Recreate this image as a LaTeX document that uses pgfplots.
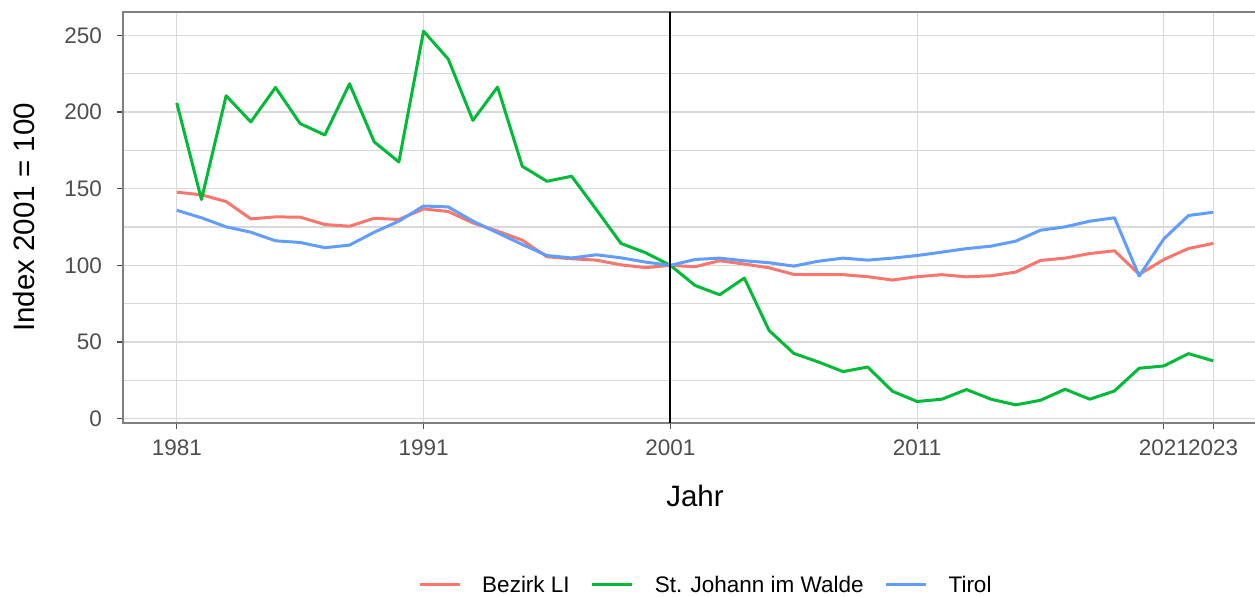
\documentclass[border=0pt]{standalone}
\usepackage{fontspec}
\setmainfont{Liberation Sans}
\usepackage{pgfplots}
\usepackage{pgfplotstable}
\pgfplotsset{compat=1.18}
\definecolor{cLI}{HTML}{F8766D}
\definecolor{cSJ}{HTML}{00BA38}
\definecolor{cT}{HTML}{619CFF}
\definecolor{gridc}{RGB}{217,217,217}
\definecolor{axc}{RGB}{127,127,127}
\definecolor{tickc}{RGB}{77,77,77}

\pgfplotstableread{
year bez sj tirol
1981 147.7 205.9 135.9
1982 146.0 142.9 131.0
1983 141.6 210.6 125.1
1984 130.3 193.5 121.6
1985 131.6 216.0 116.0
1986 131.4 192.4 114.9
1987 126.6 185.0 111.5
1988 125.5 218.4 113.2
1989 130.7 180.5 121.6
1990 129.9 167.4 128.8
1991 136.8 252.7 138.7
1992 135.1 234.5 138.1
1993 127.7 194.5 128.8
1994 122.3 216.3 121.2
1995 116.4 164.6 113.6
1996 105.6 154.8 106.4
1997 104.3 158.1 104.8
1998 103.4 136.4 106.9
1999 100.3 114.3 104.9
2000 98.5 108.2 102.1
2001 100.0 100.0 100.0
2002 99.1 86.9 103.8
2003 103.0 80.8 104.7
2004 100.8 91.7 103.0
2005 98.4 57.6 101.7
2006 94.1 42.6 99.5
2007 93.9 37.0 102.7
2008 93.9 30.7 104.7
2009 92.6 33.7 103.4
2010 90.4 17.9 104.7
2011 92.6 11.2 106.4
2012 93.9 12.7 108.6
2013 92.5 19.0 110.9
2014 93.2 12.7 112.5
2015 95.6 9.0 115.8
2016 103.2 12.0 122.9
2017 104.7 19.2 125.1
2018 107.7 12.7 128.8
2019 109.5 18.1 131.0
2020 94.1 32.9 93.0
2021 103.8 34.4 117.3
2022 111.0 42.4 132.5
2023 114.3 37.7 134.6
}\data

\begin{document}
\begin{tikzpicture}
\begin{axis}[name=ax, at={(0,0)}, anchor=south west,
  scale only axis, width=1144bp, height=411bp,
  xmin=1978.82, xmax=2025.18, ymin=-2.8, ymax=265.2,
  xtick={1981,1991,2001,2011,2021,2023},
  xticklabels={1981,1991,2001,2011,2021,2023},
  ytick={0,50,...,250}, minor ytick={25,75,...,225},
  grid=both,
  major grid style={gridc, line width=1.1bp},
  minor grid style={gridc, line width=1.1bp},
  axis line style={axc, line width=1.4bp},
  tick pos=left, tick align=outside,
  major tick length=6bp, minor tick length=0pt,
  tick style={tickc, line width=1.1bp},
  /pgf/number format/assume math mode=true,
  ticklabel style={font=\fontsize{22.5bp}{27bp}\selectfont, text=tickc, inner sep=0pt},
  xticklabel style={anchor=north, yshift=-10.5bp},
  yticklabel style={anchor=east, xshift=-15bp},
  xlabel={Jahr}, ylabel={Index 2001 = 100},
  label style={font=\fontsize{29.5bp}{34bp}\selectfont, text=black},
  xlabel style={at={(axis description cs:0.5,-0.1784)}, anchor=center, inner sep=0pt},
  ylabel style={at={(axis description cs:-0.087,0.5)}, anchor=center, inner sep=0pt},
  legend columns=3,
  legend style={at={(axis description cs:0.2579,-0.3942)}, anchor=west, draw=none,
    inner sep=0pt, font=\fontsize{22.5bp}{27bp}\selectfont,
    nodes={inner sep=0pt},
    /tikz/every odd column/.append style={column sep=21bp},
    /tikz/every even column/.append style={column sep=21bp}},
  legend image code/.code={\draw[#1] (0bp,0bp) -- (40bp,0bp);},
  every axis plot/.append style={line width=3bp, line join=round},
]
\addplot[cLI] table[x=year, y=bez] {\data};
\addlegendentry{Bezirk LI}
\addplot[cSJ] table[x=year, y=sj] {\data};
\addlegendentry{St. Johann im Walde}
\addplot[cT] table[x=year, y=tirol] {\data};
\addlegendentry{Tirol}
\addplot[black, line width=2.2bp, forget plot] coordinates {(2001,-2.8) (2001,265.2)};
\end{axis}
\pgfresetboundingbox
\path ([xshift=-123bp,yshift=-174bp]ax.south west) rectangle ([xshift=-12bp,yshift=12bp]ax.north east);
\end{tikzpicture}
\end{document}
